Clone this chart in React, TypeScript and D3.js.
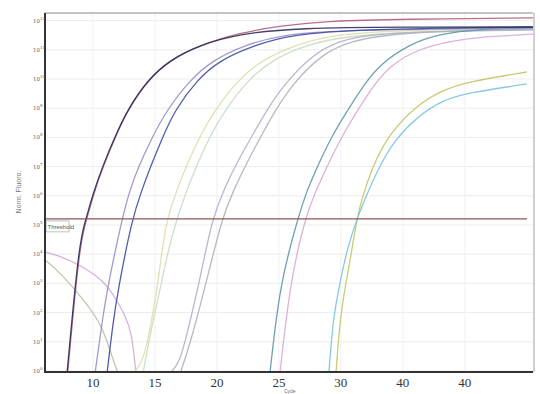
import { useEffect, useRef } from 'react';
import * as d3 from 'd3';

type Pt = [number, number]; // [cycle, log10 norm. fluoro.]

// amplification curves
const curveRed: Pt[] = [[7.95, -0.1], [8.95, 4.49], [9.52, 5.21], [10.0, 6.0], [10.81, 7.0], [11.94, 8.15], [12.82, 8.95], [14.44, 9.97], [16.21, 10.65], [18.63, 11.16], [21.85, 11.58], [25.1, 11.82], [29.1, 11.99], [34.8, 12.05], [45.5, 12.09]];
const curveNavy: Pt[] = [[7.9, -0.1], [8.9, 4.5], [9.45, 5.21], [9.95, 6.0], [10.76, 7.0], [11.9, 8.15], [12.8, 8.95], [14.4, 9.97], [16.2, 10.65], [18.6, 11.16], [21.8, 11.55], [26.7, 11.75], [34.8, 11.78], [45.5, 11.78]];
const curveLavender: Pt[] = [[10.16, -0.1], [10.73, 1.64], [11.13, 2.77], [12.34, 5.21], [12.98, 6.2], [13.63, 6.95], [14.76, 8.0], [15.97, 8.94], [17.82, 9.97], [19.68, 10.65], [22.26, 11.16], [25.08, 11.51], [29.92, 11.68], [45.5, 11.75]];
const curveBlue: Pt[] = [[11.13, -0.1], [11.61, 1.64], [12.02, 2.77], [13.15, 5.21], [13.95, 6.2], [14.6, 6.95], [15.56, 7.95], [16.61, 8.94], [18.39, 9.97], [20.24, 10.65], [23.06, 11.16], [25.89, 11.51], [31.53, 11.71], [45.5, 11.78]];
const curvePaleYellow: Pt[] = [[13.23, -0.1], [14.03, 0.31], [14.6, 1.4], [15.16, 2.77], [15.6, 4.2], [15.97, 5.21], [16.77, 6.2], [17.5, 7.0], [18.63, 8.05], [19.84, 8.94], [21.69, 9.97], [23.63, 10.65], [26.29, 11.16], [29.11, 11.51], [34.76, 11.68], [45.5, 11.71]];
const curvePaleGreen: Pt[] = [[14.03, -0.1], [14.6, 1.23], [15.4, 2.77], [16.1, 4.2], [16.77, 5.21], [17.58, 6.2], [18.31, 7.0], [19.44, 8.05], [20.65, 8.94], [22.5, 9.97], [24.44, 10.65], [27.1, 11.16], [30.32, 11.47], [36.37, 11.64], [45.5, 11.68]];
const curveGreyLilac: Pt[] = [[16.21, -0.1], [17.02, 0.31], [17.66, 1.4], [18.63, 3.12], [19.6, 5.21], [20.65, 6.3], [21.69, 7.2], [22.9, 8.1], [24.03, 8.94], [25.48, 9.85], [27.66, 10.8], [29.68, 11.3], [33.15, 11.61], [45.5, 11.68]];
const curveGrey: Pt[] = [[17.02, -0.1], [17.82, 0.89], [19.19, 3.12], [20.4, 5.21], [21.29, 6.15], [22.5, 7.2], [23.63, 8.1], [24.68, 8.9], [26.13, 9.85], [28.47, 10.85], [30.73, 11.3], [34.76, 11.61], [45.5, 11.71]];
const curveTeal: Pt[] = [[24.27, -0.1], [25.08, 3.01], [26.53, 5.21], [27.18, 6.1], [28.31, 7.2], [29.35, 8.1], [30.56, 8.94], [31.94, 9.85], [33.15, 10.5], [35.56, 11.2], [37.98, 11.55], [41.21, 11.71], [45.5, 11.75]];
const curvePink: Pt[] = [[25.08, -0.1], [25.89, 3.01], [27.1, 5.21], [27.9, 6.1], [29.11, 7.2], [30.16, 8.1], [31.37, 8.94], [32.74, 9.85], [34.11, 10.5], [36.37, 11.06], [39.6, 11.37], [42.82, 11.47], [45.5, 11.54]];
const curveCyan: Pt[] = [[29.03, -0.1], [29.35, 1.75], [29.92, 3.01], [30.48, 4.14], [31.29, 5.21], [32.18, 6.13], [33.15, 7.05], [34.35, 7.91], [36.13, 8.7], [38.23, 9.28], [40.16, 9.52], [45.0, 9.83]];
const curveOlive: Pt[] = [[29.6, -0.1], [29.92, 1.75], [30.4, 3.01], [30.89, 4.14], [31.29, 5.21], [31.69, 5.89], [32.58, 7.05], [33.95, 8.15], [36.13, 9.11], [38.23, 9.62], [40.16, 9.9], [45.0, 10.24]];
// falling (negative) traces at the left
const curveFallLilac: Pt[] = [[6.13, 4.08], [7.34, 3.94], [8.95, 3.63], [10.81, 3.12], [11.77, 2.53], [12.58, 1.92], [13.15, 1.3], [13.47, -0.1]];
const curveFallOlive: Pt[] = [[6.13, 3.8], [7.34, 3.39], [9.76, 2.19], [10.73, 1.51], [11.37, 0.72], [12.02, -0.1]];

const series = [
  { data: curveFallOlive, color: '#bdbfa6' },
  { data: curveFallLilac, color: '#cfa9dc' },
  { data: curvePaleYellow, color: '#e0dcaa' },
  { data: curvePaleGreen, color: '#c6dcc4' },
  { data: curveGreyLilac, color: '#b4aecb' },
  { data: curveGrey, color: '#aab4bc' },
  { data: curveOlive, color: '#c4c468' },
  { data: curveCyan, color: '#78c4da' },
  { data: curvePink, color: '#d8a8d8' },
  { data: curveTeal, color: '#5e96ac' },
  { data: curveLavender, color: '#9890c2' },
  { data: curveBlue, color: '#3c4ca4' },
  { data: curveRed, color: '#b0607a' },
  { data: curveNavy, color: '#2c2c5c' },
];

const thresholdLog = 5.21;
const xTicks = [10, 15, 20, 25, 30, 35, 40];
const xTickLabels = ['10', '15', '20', '25', '30', '40', '40'];
const yTicks = d3.range(0, 13);
const yTickExp = ['0', '1', '2', '3', '4', '5', '6', '7', '8', '9', '10', '11', '12'];

export default function App() {
  const svgRef = useRef<SVGSVGElement>(null);
  const width = 540;
  const height = 394;

  useEffect(() => {
    if (!svgRef.current) return;
    const svg = d3.select(svgRef.current);
    svg.selectAll('*').remove();

    const left = 45, right = 533, top = 13, bottom = 372;

    const x = d3.scaleLinear().domain([6.13, 45.5]).range([left, right]);
    const y = d3.scaleLinear().domain([0, 12]).range([371, 20.6]);

    svg.append('rect').attr('width', width).attr('height', height).attr('fill', '#fff');

    // grid
    const grid = svg.append('g');
    grid.selectAll('.hg')
      .data(yTicks)
      .join('line')
      .attr('x1', left).attr('x2', right)
      .attr('y1', d => y(d)).attr('y2', d => y(d))
      .attr('stroke', '#ececec').attr('stroke-width', 1);
    grid.selectAll('.vg')
      .data(xTicks)
      .join('line')
      .attr('x1', d => x(d)).attr('x2', d => x(d))
      .attr('y1', top).attr('y2', bottom)
      .attr('stroke', '#f0f0f0').attr('stroke-width', 1);

    // frame
    svg.append('line').attr('x1', left).attr('x2', right).attr('y1', top).attr('y2', top)
      .attr('stroke', '#8a8a8a').attr('stroke-width', 1.2);
    svg.append('line').attr('x1', right + 1).attr('x2', right + 1).attr('y1', top).attr('y2', bottom)
      .attr('stroke', '#d0d0d0').attr('stroke-width', 2);

    svg.append('clipPath').attr('id', 'plot-clip')
      .append('rect').attr('x', left).attr('y', top).attr('width', right - left).attr('height', bottom - top);

    const line = d3.line<Pt>()
      .x(d => x(d[0]))
      .y(d => y(d[1]))
      .curve(d3.curveBasis);

    const curves = svg.append('g').attr('clip-path', 'url(#plot-clip)');
    curves.selectAll('path')
      .data(series)
      .join('path')
      .attr('d', d => line(d.data))
      .attr('fill', 'none')
      .attr('stroke', d => d.color)
      .attr('stroke-width', 1.3)
      .attr('opacity', 0.9);

    // threshold
    svg.append('line')
      .attr('x1', left).attr('x2', 527)
      .attr('y1', y(thresholdLog)).attr('y2', y(thresholdLog))
      .attr('stroke', '#8e5458').attr('stroke-width', 1.3);
    svg.append('rect')
      .attr('x', left + 1).attr('y', y(thresholdLog) + 2)
      .attr('width', 23).attr('height', 11)
      .attr('fill', '#fff').attr('stroke', '#b0b0b0').attr('stroke-width', 0.8);
    svg.append('text')
      .attr('x', left + 2.5).attr('y', y(thresholdLog) + 10)
      .attr('font-family', 'Arial, sans-serif').attr('font-size', 6)
      .attr('fill', '#555')
      .text('Threshold');

    // axes lines
    svg.append('line').attr('x1', left).attr('x2', left).attr('y1', top).attr('y2', bottom + 1)
      .attr('stroke', '#333').attr('stroke-width', 2);
    svg.append('line').attr('x1', left).attr('x2', right).attr('y1', bottom).attr('y2', bottom)
      .attr('stroke', '#333').attr('stroke-width', 2);

    // y tick labels
    const yl = svg.append('g')
      .attr('font-family', 'DejaVu Serif, serif')
      .attr('fill', '#666');
    yTicks.forEach((t, i) => {
      const txt = yl.append('text')
        .attr('x', 33).attr('y', y(t) + 2)
        .attr('font-size', 5.5);
      txt.append('tspan').text('10');
      txt.append('tspan').attr('dy', -3).attr('font-size', 4).text(yTickExp[i]);
    });

    // x tick labels
    svg.append('g')
      .selectAll('text')
      .data(xTicks)
      .join('text')
      .attr('x', d => x(d))
      .attr('y', 387)
      .attr('text-anchor', 'middle')
      .attr('font-family', 'Liberation Serif, Times New Roman, serif')
      .attr('font-size', 13)
      .attr('fill', '#333')
      .text((d, i) => xTickLabels[i]);

    svg.append('text')
      .attr('x', 290).attr('y', 393)
      .attr('text-anchor', 'middle')
      .attr('font-family', 'Arial, sans-serif')
      .attr('font-size', 4.5)
      .attr('fill', '#666')
      .text('Cycle');

    svg.append('text')
      .attr('transform', `translate(21,${192}) rotate(-90)`)
      .attr('text-anchor', 'middle')
      .attr('font-family', 'Arial, sans-serif')
      .attr('font-size', 7)
      .attr('fill', '#777')
      .text('Norm. Fluoro.');
  }, []);

  return (
    <svg
      ref={svgRef}
      width={width}
      height={height}
      style={{ position: 'absolute', left: 0, top: 0, display: 'block' }}
    />
  );
}
